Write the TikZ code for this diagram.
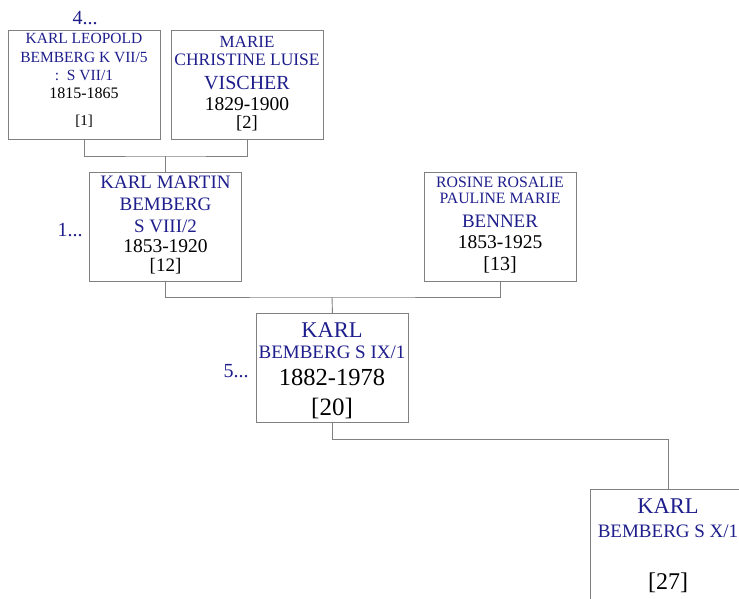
\documentclass[tikz,border=0pt]{standalone}
\usepackage{fontspec}
\setmainfont{Liberation Serif}
\definecolor{namecol}{RGB}{30,30,140}
\definecolor{boxcol}{RGB}{128,128,128}
\tikzset{
  person/.style={draw=boxcol,line width=0.9pt,anchor=north west,inner sep=0pt,
    minimum width=152pt,minimum height=109pt},
  link/.style={draw=boxcol,line width=0.9pt},
  nm/.style={anchor=base,inner sep=0pt,text=namecol},
  yr/.style={anchor=base,inner sep=0pt,text=black},
  gen/.style={anchor=base,inner sep=0pt,text=namecol,font=\fontsize{20}{22}\selectfont}
}
\begin{document}
\begin{tikzpicture}[x=1pt,y=-1pt]
		\clip (0,0) rectangle (739,598);
		% boxes
		\node[person] (b1) at (8,30) {};
		\node[person] (b2) at (171,30) {};
		\node[person] (b3) at (89,172) {};
		\node[person] (b4) at (424,172) {};
		\node[person] (b5) at (256,313) {};
		\node[person,minimum width=156pt,minimum height=120pt] (b6) at (590,489) {};
		% generation marks
		\node[gen] (g4) at (85,24) {4...};
		\node[gen] (g1) at (70,236) {1...};
		\node[gen] (g5) at (236,377) {5...};
		% Karl Leopold
		\node[nm,font=\fontsize{15.5}{17}\selectfont] (n1a) at (84,43) {KARL LEOPOLD};
		\node[nm,font=\fontsize{15.5}{17}\selectfont] (n1b) at (84,62) {BEMBERG K VII/5};
		\node[nm,font=\fontsize{15.5}{17}\selectfont] (n1c) at (84,80) {:\ \ S VII/1};
		\node[yr,font=\fontsize{16}{18}\selectfont] (y1) at (84,98) {1815-1865};
		\node[yr,font=\fontsize{15}{17}\selectfont] (r1) at (84,125) {[1]};
		% Marie
		\node[nm,font=\fontsize{17}{19}\selectfont] (n2a) at (247,47) {MARIE};
		\node[nm,font=\fontsize{17.5}{19}\selectfont] (n2b) at (247,65.5) {CHRISTINE LUISE};
		\node[nm,font=\fontsize{20}{22}\selectfont] (n2c) at (247,89.5) {VISCHER};
		\node[yr,font=\fontsize{19.5}{22}\selectfont] (y2) at (247,110) {1829-1900};
		\node[yr,font=\fontsize{18.5}{21}\selectfont] (r2) at (247,128.5) {[2]};
		% Karl Martin
		\node[nm,font=\fontsize{19}{21}\selectfont] (n3a) at (165.5,188) {KARL MARTIN};
		\node[nm,font=\fontsize{19}{21}\selectfont] (n3b) at (165.5,210) {BEMBERG};
		\node[nm,font=\fontsize{19}{21}\selectfont] (n3c) at (165.5,232) {S VIII/2};
		\node[yr,font=\fontsize{19.5}{22}\selectfont] (y3) at (165.5,252) {1853-1920};
		\node[yr,font=\fontsize{19}{21}\selectfont] (r3) at (165.5,271.5) {[12]};
		% Rosine
		\node[nm,font=\fontsize{15.8}{17}\selectfont] (n4a) at (500,187) {ROSINE ROSALIE};
		\node[nm,font=\fontsize{15.8}{17}\selectfont] (n4b) at (500,203) {PAULINE MARIE};
		\node[nm,font=\fontsize{19}{21}\selectfont] (n4c) at (500,227) {BENNER};
		\node[yr,font=\fontsize{19.5}{21}\selectfont] (y4) at (500,248) {1853-1925};
		\node[yr,font=\fontsize{20}{22}\selectfont] (r4) at (500,270) {[13]};
		% Karl IX
		\node[nm,font=\fontsize{22.5}{24}\selectfont] (n5a) at (332,337) {KARL};
		\node[nm,font=\fontsize{19}{21}\selectfont] (n5b) at (332,358) {BEMBERG S IX/1};
		\node[yr,font=\fontsize{24.5}{26}\selectfont] (y5) at (332,385) {1882-1978};
		\node[yr,font=\fontsize{25}{27}\selectfont] (r5) at (332,415) {[20]};
		% Karl X
		\node[nm,font=\fontsize{22.5}{24}\selectfont] (n6a) at (668,513) {KARL};
		\node[nm,font=\fontsize{19}{21}\selectfont] (n6b) at (668,537) {BEMBERG S X/1};
		\node[yr,font=\fontsize{24}{26}\selectfont] (r6) at (668,589) {[27]};
		% connectors
		\coordinate (m1) at (165.5,156);
		\coordinate (m2) at (332,297);
		\draw[link] (b1.south) |- (m1) -| (b2.south);
		\draw[link] (m1) -- (b3.north);
		\draw[link] (b3.south) |- (m2) -| (b4.south);
		\draw[link] (m2) -- (b5.north);
		\draw[link] (b5.south) -- ++(0,17) -| (b6.north);
\end{tikzpicture}
\end{document}
